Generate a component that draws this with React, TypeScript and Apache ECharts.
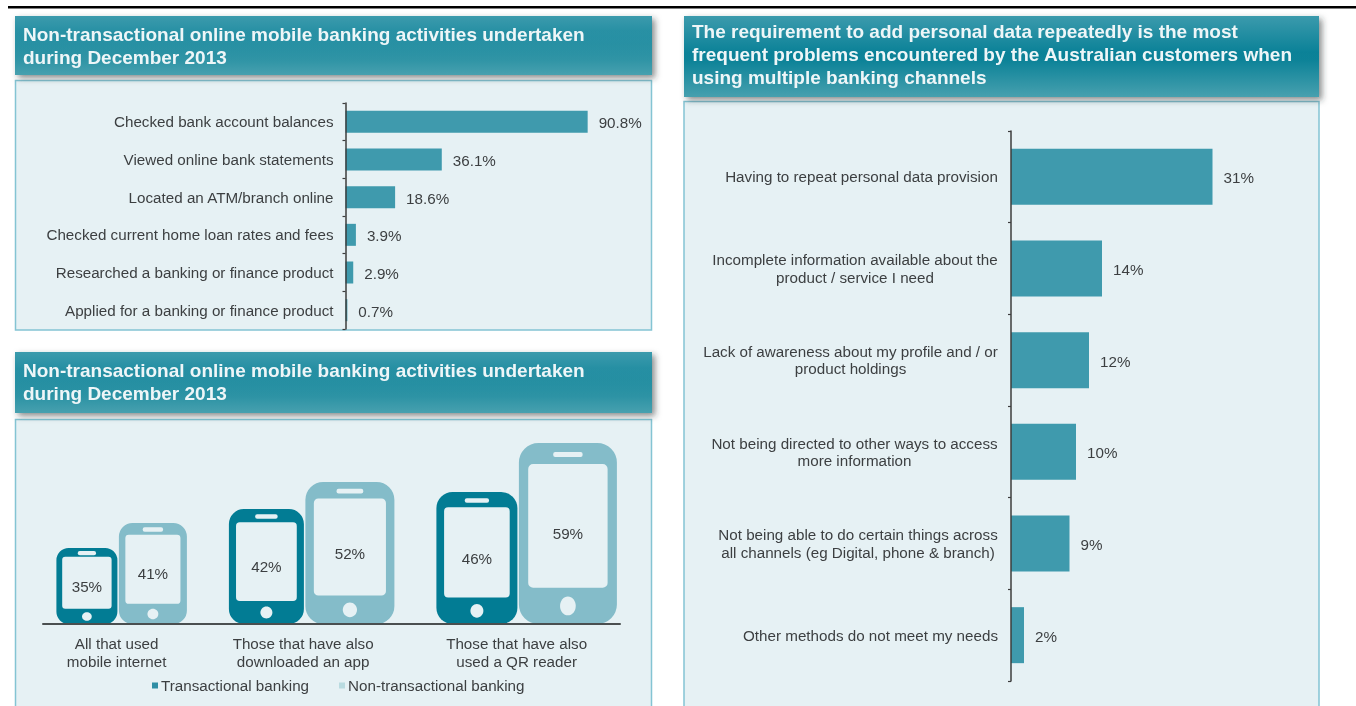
import React, { useEffect, useRef } from "react";
import * as echarts from "echarts";

const headlineActivities = "Non-transactional online mobile banking activities undertaken\nduring December 2013";
const headlineSegments = "Non-transactional online mobile banking activities undertaken\nduring December 2013";
const headlineProblems =
  "The requirement to add personal data repeatedly is the most\nfrequent problems encountered by the Australian customers when\nusing multiple banking channels";

const activityCategories = [
  "Checked bank account balances",
  "Viewed online bank statements",
  "Located an ATM/branch online",
  "Checked current home loan rates and fees",
  "Researched a banking or finance product",
  "Applied for a banking or finance product",
];
const activityValues = [90.8, 36.1, 18.6, 3.9, 2.9, 0.7];

const problemCategories = [
  "Having to repeat personal data provision",
  "Incomplete information available about the\nproduct / service I need",
  "Lack of awareness about my profile and / or\nproduct holdings",
  "Not being directed to other ways to access\nmore information",
  "Not being able to do certain things across\nall channels (eg Digital, phone & branch)",
  "Other methods do not meet my needs",
];
const problemValues = [31, 14, 12, 10, 9, 2];

const segmentCategories = [
  "All that used\nmobile internet",
  "Those that have also\ndownloaded an app",
  "Those that have also\nused a QR reader",
];
const transactionalName = "Transactional banking";
const nonTransactionalName = "Non-transactional banking";
const transactionalValues = [35, 42, 46];
const nonTransactionalValues = [41, 52, 59];
// The phones are pictograms: their drawn size is read from the picture, not proportional to the %.
const transactionalPhoneHeights = [76, 115, 132];
const nonTransactionalPhoneHeights = [101, 142, 181];
const transactionalPhoneWidths = [61, 75, 81];
const nonTransactionalPhoneWidths = [68, 89, 98];

const FONT = '"Liberation Sans", Arial, sans-serif';
const TEXT = "#3c3f41";
const BAR = "#3f9aad";
const DARK_PHONE = "#027c94";
const LIGHT_PHONE = "#84bcc9";
const PANEL = "#e6f1f4";
const PANEL_EDGE = "#84c4d3";
const LABEL_SIZE = 15.2;

function lineWidth(text: string, size: number) {
  const ctx = document.createElement("canvas").getContext("2d")!;
  ctx.font = `${size}px "Liberation Sans"`;
  return ctx.measureText(text).width;
}

function header(x: number, y: number, w: number, h: number) {
  const shape = { x, y, width: w, height: h };
  // shallow diagonal bands: lighter towards the top-left and the bottom-right corners
  const dx = 3 / w;
  const dy = 45 / h;
  return [
    {
      type: "rect",
      shape,
      style: { fill: "#047c93", shadowBlur: 6, shadowOffsetX: 3, shadowOffsetY: 3, shadowColor: "rgba(40,50,50,0.55)" },
    },
    {
      type: "rect",
      shape,
      style: {
        fill: new echarts.graphic.LinearGradient(0, 0, dx, dy, [
          { offset: 0, color: "rgba(100,175,190,0.6)" },
          { offset: 1, color: "rgba(100,175,190,0)" },
        ]),
      },
    },
    {
      type: "rect",
      shape,
      style: {
        fill: new echarts.graphic.LinearGradient(1, 1, 1 - dx, 1 - dy, [
          { offset: 0, color: "rgba(110,180,190,0.65)" },
          { offset: 1, color: "rgba(110,180,190,0)" },
        ]),
      },
    },
  ];
}

function panel(x: number, y: number, w: number, h: number) {
  return {
    type: "rect",
    shape: { x, y, width: w, height: h },
    style: { fill: PANEL, stroke: PANEL_EDGE, lineWidth: 1.5 },
  };
}

// left edges of the phones: pairs side by side, pairs separated by a gap
const PAIR_GAP = 1.5;
const GROUP_GAP = 42;
const LEAD = 13.4;
const phoneLayout = transactionalPhoneWidths.map((w, i) => {
  let x = LEAD;
  for (let k = 0; k < i; k++) x += transactionalPhoneWidths[k] + PAIR_GAP + nonTransactionalPhoneWidths[k] + GROUP_GAP;
  return { left: x, mid: x + w + PAIR_GAP / 2, next: x + w + PAIR_GAP };
});
const groupCenters = phoneLayout.map((p) => p.mid - 1.5);

function phoneRenderer(color: string) {
  return (_: any, api: any) => {
    const [x0, base] = api.coord([api.value(0), 0]);
    const [x1, top] = api.coord([api.value(1), api.value(2)]);
    const w = x1 - x0;
    const h = base - top;
    const cx = (x0 + x1) / 2;
    const insetX = w * 0.095;
    const sTop = top + h * 0.116;
    const sBot = base - h * 0.2;
    return {
      type: "group",
      children: [
        { type: "rect", shape: { x: x0, y: top, width: w, height: h, r: w * 0.2 }, style: { fill: color } },
        {
          type: "rect",
          shape: { x: x0 + insetX, y: sTop, width: w - 2 * insetX, height: sBot - sTop, r: w * 0.05 },
          style: { fill: PANEL },
        },
        {
          type: "rect",
          shape: { x: cx - w * 0.15, y: top + h * 0.058 - 1.5, width: w * 0.3, height: 3 + w * 0.02, r: 2 },
          style: { fill: PANEL },
        },
        {
          type: "ellipse",
          shape: { cx, cy: base - h * 0.1, rx: w * 0.08, ry: Math.max(h * 0.052, w * 0.07) },
          style: { fill: PANEL },
        },
        {
          type: "text",
          style: {
            x: cx,
            y: top + h * 0.5,
            text: `${api.value(3)}%`,
            align: "center",
            verticalAlign: "middle",
            fill: TEXT,
            font: `${LABEL_SIZE}px ${FONT}`,
          },
        },
      ],
    };
  };
}

const axisLineStyle = { show: true, lineStyle: { color: "#3d3d3d", width: 1.5 } };
const tickStyle = { show: true, length: 3, lineStyle: { color: "#3d3d3d", width: 1.2 } };

function buildOption() {
  const problemRich: any = {};
  problemCategories.forEach((c, i) => {
    problemRich[`p${i}`] = {
      width: Math.ceil(Math.max(...c.split("\n").map((l) => lineWidth(l, LABEL_SIZE)))),
      align: "center",
      lineHeight: 17.5,
      fontSize: LABEL_SIZE,
      fontFamily: FONT,
      color: TEXT,
    };
  });

  return {
    animation: false,
    backgroundColor: "#ffffff",
    title: [
      { text: headlineActivities, left: 23, top: 22.5 },
      { text: headlineSegments, left: 23, top: 358.5 },
      { text: headlineProblems, left: 692, top: 19.5 },
    ].map((t) => ({
      ...t,
      padding: 0,
      z: 8,
      textStyle: { color: "#eef6f8", fontFamily: FONT, fontWeight: "bold", fontSize: 19, lineHeight: 23 },
    })),
    legend: {
      left: 152,
      top: 678,
      itemWidth: 6,
      itemHeight: 6,
      itemGap: 30,
      padding: 0,
      icon: "rect",
      selectedMode: false,
      textStyle: { color: TEXT, fontFamily: FONT, fontSize: LABEL_SIZE, padding: [0, 0, 0, -2] },
      data: [
        { name: transactionalName, itemStyle: { color: "#2f8ea5" } },
        { name: nonTransactionalName, itemStyle: { color: "#b9dbe0" } },
      ],
    },
    grid: [
      { left: 345.5, top: 103, width: 266.7, height: 226 },
      { left: 1011, top: 131, width: 260, height: 550 },
      { left: 43, top: 424, width: 577, height: 200 },
    ],
    xAxis: [
      { type: "value", gridIndex: 0, min: 0, max: 100, show: false },
      { type: "value", gridIndex: 1, min: 0, max: 40, show: false },
      {
        type: "value",
        gridIndex: 2,
        min: 0,
        max: 577,
        z: 6,
        splitLine: { show: false },
        axisTick: { show: false },
        axisLine: { show: true, onZero: false, lineStyle: { color: "#4a4f50", width: 2 } },
        axisLabel: {
          show: true,
          customValues: groupCenters,
          margin: 11,
          hideOverlap: false,
          color: TEXT,
          fontFamily: FONT,
          fontSize: LABEL_SIZE,
          lineHeight: 17.5,
          formatter: (v: number) => {
            let best = 0;
            groupCenters.forEach((c, i) => {
              if (Math.abs(c - v) < Math.abs(groupCenters[best] - v)) best = i;
            });
            return segmentCategories[best];
          },
        },
      },
    ],
    yAxis: [
      {
        type: "category",
        gridIndex: 0,
        inverse: true,
        data: activityCategories,
        z: 6,
        axisLine: axisLineStyle,
        axisTick: tickStyle,
        axisLabel: { margin: 12, color: TEXT, fontFamily: FONT, fontSize: LABEL_SIZE },
      },
      {
        type: "category",
        gridIndex: 1,
        inverse: true,
        data: problemCategories,
        z: 6,
        axisLine: axisLineStyle,
        axisTick: tickStyle,
        axisLabel: {
          margin: 13,
          interval: 0,
          rich: problemRich,
          formatter: (v: string, i: number) =>
            v.split("\n").map((l) => `{p${i}|${l}}`).join("\n"),
        },
      },
      { type: "value", gridIndex: 2, min: 0, max: 200, show: false },
    ],
    series: [
      {
        type: "bar",
        xAxisIndex: 0,
        yAxisIndex: 0,
        data: activityValues,
        barWidth: 22,
        itemStyle: { color: BAR },
        label: {
          show: true,
          position: "right",
          distance: 11,
          offset: [0, 1],
          color: TEXT,
          fontFamily: FONT,
          fontSize: LABEL_SIZE,
          formatter: (p: any) => `${p.value.toFixed(1)}%`,
        },
      },
      {
        type: "bar",
        xAxisIndex: 1,
        yAxisIndex: 1,
        data: problemValues,
        barWidth: 56,
        itemStyle: { color: BAR },
        label: {
          show: true,
          position: "right",
          distance: 11,
          offset: [0, 1],
          color: TEXT,
          fontFamily: FONT,
          fontSize: LABEL_SIZE,
          formatter: (p: any) => `${p.value}%`,
        },
      },
      {
        type: "custom",
        name: transactionalName,
        xAxisIndex: 2,
        yAxisIndex: 2,
        z: 4,
        itemStyle: { color: DARK_PHONE },
        encode: { x: [0, 1], y: 2 },
        renderItem: phoneRenderer(DARK_PHONE),
        data: transactionalValues.map((v, i) => [
          phoneLayout[i].left,
          phoneLayout[i].left + transactionalPhoneWidths[i],
          transactionalPhoneHeights[i],
          v,
        ]),
      },
      {
        type: "custom",
        name: nonTransactionalName,
        xAxisIndex: 2,
        yAxisIndex: 2,
        z: 4,
        itemStyle: { color: LIGHT_PHONE },
        encode: { x: [0, 1], y: 2 },
        renderItem: phoneRenderer(LIGHT_PHONE),
        data: nonTransactionalValues.map((v, i) => [
          phoneLayout[i].next,
          phoneLayout[i].next + nonTransactionalPhoneWidths[i],
          nonTransactionalPhoneHeights[i],
          v,
        ]),
      },
    ],
    graphic: {
      elements: [
        { type: "rect", shape: { x: 8, y: 6, width: 1348, height: 2.5 }, style: { fill: "#000000" } },
        panel(15.5, 80.5, 636, 249.5),
        panel(15.5, 419.5, 636, 300),
        panel(684, 101.5, 635, 620),
        ...header(15, 16, 637, 59),
        ...header(15, 352, 637, 61),
        ...header(684, 16, 635, 81),
      ],
    },
  };
}

export default function App() {
  const ref = useRef<HTMLDivElement>(null);
  useEffect(() => {
    const chart = echarts.init(ref.current!, undefined, { renderer: "svg" });
    chart.setOption(buildOption() as any);
    return () => chart.dispose();
  }, []);
  return (
    <div
      ref={ref}
      style={{ position: "fixed", left: 0, top: 0, width: 1356, height: 706, filter: "blur(0.4px)" }}
    />
  );
}
